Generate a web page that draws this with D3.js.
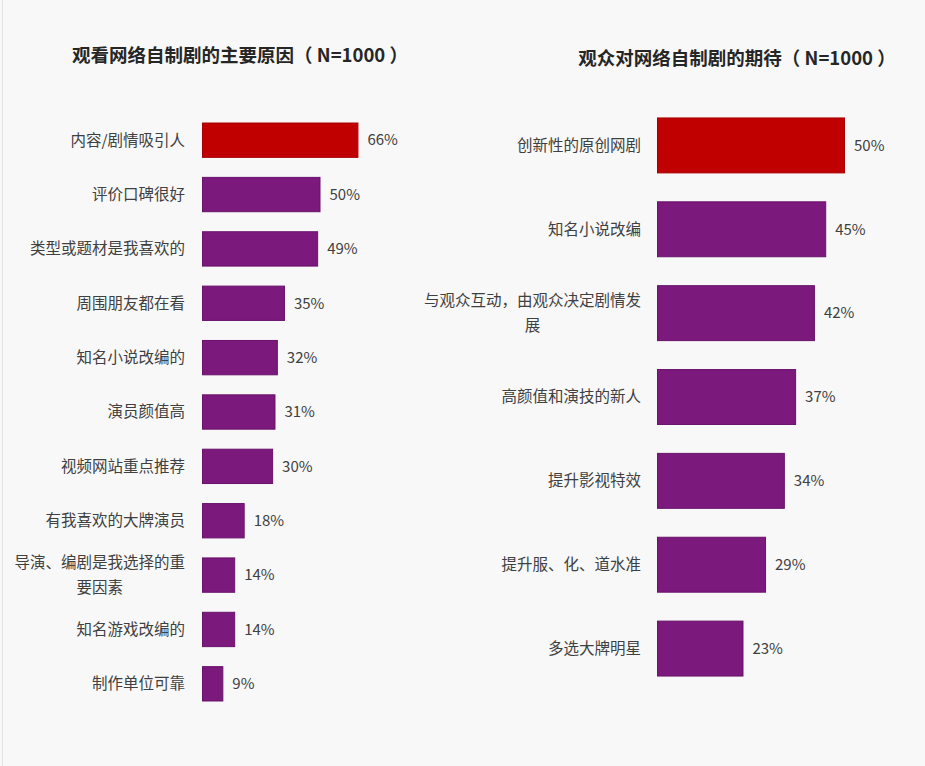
<!DOCTYPE html>
<html>
<head>
<meta charset="utf-8">
<script src="https://cdn.jsdelivr.net/npm/d3@7/dist/d3.min.js"></script>
<style>
  html, body { margin: 0; padding: 0; background: #f8f8f8; }
  svg { display: block; }
  text { font-family: "Noto Sans CJK SC", "Noto Sans", sans-serif; }
</style>
</head>
<body>
<script>
// ---- Data ----
const leftTitle = "观看网络自制剧的主要原因（ N=1000 ）";
const leftCategories = ["内容/剧情吸引人", "评价口碑很好", "类型或题材是我喜欢的", "周围朋友都在看", "知名小说改编的", "演员颜值高", "视频网站重点推荐", "有我喜欢的大牌演员", "导演、编剧是我选择的重要因素", "知名游戏改编的", "制作单位可靠"];
const leftValues = [66, 50, 49, 35, 32, 31, 30, 18, 14, 14, 9];

const rightTitle = "观众对网络自制剧的期待（ N=1000 ）";
const rightCategories = ["创新性的原创网剧", "知名小说改编", "与观众互动，由观众决定剧情发展", "高颜值和演技的新人", "提升影视特效", "提升服、化、道水准", "多选大牌明星"];
const rightValues = [50, 45, 42, 37, 34, 29, 23];

// ---- Drawing ----
const W = 925, H = 766;
const svg = d3.select("body").append("svg").attr("width", W).attr("height", H);
svg.append("rect").attr("width", W).attr("height", H).attr("fill", "#f8f8f8");
svg.append("line").attr("x1", 2.5).attr("x2", 2.5).attr("y1", 0).attr("y2", H)
  .attr("stroke", "#e4e4e4").attr("stroke-width", 1);

const RED = "#c00000", RED_S = "#a80000";
const PUR = "#7b197d", PUR_S = "#69126b";
const LABEL_FS = 15.5;

function wrapLabel(textSel, maxW) {
  textSel.each(function() {
    const t = d3.select(this);
    const full = t.text();
    const chars = Array.from(full);
    t.text(null);
    const x = +t.attr("x") || 0;
    const tmp = t.append("tspan").attr("x", x);
    const lines = [];
    let cur = "";
    for (const c of chars) {
      tmp.text(cur + c);
      if (tmp.node().getComputedTextLength() > maxW && cur.length) {
        lines.push(cur); cur = c;
      } else cur += c;
    }
    lines.push(cur);
    tmp.remove();
    if (lines.length === 1) {
      t.append("tspan").attr("x", x).attr("dy", "0.35em").text(lines[0]);
    } else {
      const widths = lines.map(l => { const s = t.append("tspan").text(l); const w = s.node().getComputedTextLength(); s.remove(); return w; });
      const maxLine = d3.max(widths);
      const cx = x - maxLine / 2;
      const lh = 25.5;
      lines.forEach((l, i) => {
        t.append("tspan")
          .attr("x", cx)
          .attr("text-anchor", "middle")
          .attr("dy", i === 0 ? (0.35 * LABEL_FS - (lines.length - 1) * lh / 2) + "px" : lh + "px")
          .text(l);
      });
    }
  });
}

function drawChart(opt) {
  const g = svg.append("g");
  const x = d3.scaleLinear().domain([0, 100]).range([opt.x0, opt.x0 + opt.pxPer100]);
  const y = d3.scaleBand().domain(opt.categories).range([opt.yTop, opt.yBottom]).paddingInner(opt.pad).paddingOuter(opt.pad / 2);

  // title
  g.append("text")
    .attr("x", opt.titleX).attr("y", opt.titleY)
    .attr("text-anchor", "middle")
    .attr("font-size", 18.5).attr("font-weight", "bold").attr("fill", "#262626")
    .text(opt.title);

  // category axis
  const axis = d3.axisLeft(y).tickSize(0).tickPadding(opt.x0 - opt.labelRight);
  const ag = g.append("g").attr("transform", `translate(${opt.x0},0)`).call(axis);
  ag.select(".domain").remove();
  ag.selectAll(".tick text")
    .attr("font-size", LABEL_FS).attr("fill", "#404040")
    .style("font-family", '"Noto Sans CJK SC", sans-serif')
    .attr("dy", null)
    .call(wrapLabel, opt.wrapW);

  // bars
  const data = opt.categories.map((c, i) => ({ c, v: opt.values[i], i }));
  g.selectAll("rect.bar").data(data).join("rect")
    .attr("class", "bar")
    .attr("x", x(0) + 0.5)
    .attr("y", d => y(d.c) + 0.5)
    .attr("width", d => x(d.v) - x(0) - 1)
    .attr("height", y.bandwidth() - 1)
    .attr("fill", d => d.i === 0 ? RED : PUR)
    .attr("stroke", d => d.i === 0 ? RED_S : PUR_S)
    .attr("stroke-width", 1);

  // value labels
  g.selectAll("text.val").data(data).join("text")
    .attr("class", "val")
    .attr("x", d => x(d.v) + 9)
    .attr("y", d => y(d.c) + y.bandwidth() / 2)
    .attr("dy", "0.35em")
    .attr("font-size", 15).attr("fill", "#404040")
    .text(d => d.v + "%");
}

drawChart({
  title: leftTitle, categories: leftCategories, values: leftValues,
  titleX: 240, titleY: 62,
  x0: 202, pxPer100: 237, labelRight: 185, wrapW: 178,
  yTop: 113, yBottom: 711, pad: 0.35
});

drawChart({
  title: rightTitle, categories: rightCategories, values: rightValues,
  titleX: 737, titleY: 65,
  x0: 657, pxPer100: 376, labelRight: 641, wrapW: 228,
  yTop: 103.5, yBottom: 690.5, pad: 0.333
});
</script>
</body>
</html>
